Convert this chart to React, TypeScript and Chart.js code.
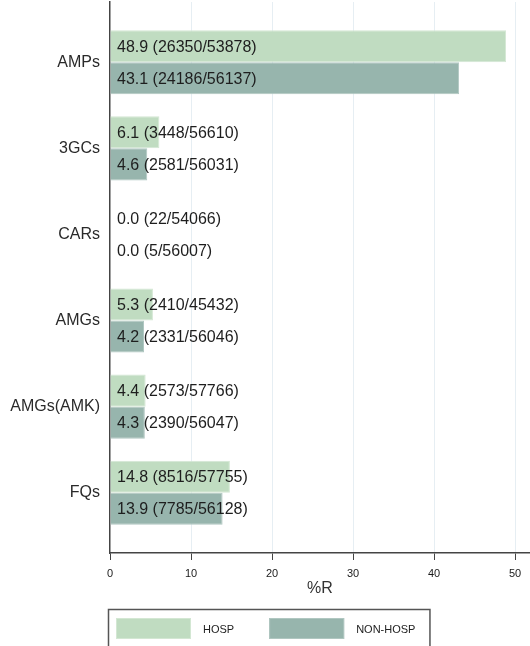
import React, { useEffect, useRef } from "react";
import { Chart, registerables } from "chart.js";

Chart.register(...registerables);

const categories = ["AMPs", "3GCs", "CARs", "AMGs", "AMGs(AMK)", "FQs"];
const hospPct = [48.9, 6.1, 0.0, 5.3, 4.4, 14.8];
const hospResistant = [26350, 3448, 22, 2410, 2573, 8516];
const hospTested = [53878, 56610, 54066, 45432, 57766, 57755];
const nonHospPct = [43.1, 4.6, 0.0, 4.2, 4.3, 13.9];
const nonHospResistant = [24186, 2581, 5, 2331, 2390, 7785];
const nonHospTested = [56137, 56031, 56007, 56046, 56047, 56128];
const xTickValues = [0, 10, 20, 30, 40, 50];
const seriesNames = ["HOSP", "NON-HOSP"];
const seriesColors = ["#c0dcc1", "#97b5ad"];
const seriesEdges = ["#d3e7d3", "#b0c7c1"];

const FONT = "'Liberation Sans', Arial, sans-serif";

const countLabels = [
  hospPct.map((v, i) => `${v.toFixed(1)} (${hospResistant[i]}/${hospTested[i]})`),
  nonHospPct.map((v, i) => `${v.toFixed(1)} (${nonHospResistant[i]}/${nonHospTested[i]})`),
];

// Writes "pct (resistant/tested)" inside each bar, starting at the zero line
const barLabelPlugin = {
  id: "barLabels",
  afterDatasetsDraw(chart: any) {
    const ctx = chart.ctx;
    const x0 = chart.scales.x.getPixelForValue(0) + 7;
    ctx.save();
    ctx.font = `16px ${FONT}`;
    ctx.fillStyle = "#1e1e1e";
    ctx.textAlign = "left";
    ctx.textBaseline = "middle";
    chart.data.datasets.forEach((_ds: any, di: number) => {
      const meta = chart.getDatasetMeta(di);
      meta.data.forEach((el: any, i: number) => {
        ctx.fillText(countLabels[di][i], x0, el.y + 1);
      });
    });
    ctx.restore();
  },
};

// Boxed legend under the axis title
const boxLegendPlugin = {
  id: "boxLegend",
  afterDraw(chart: any) {
    const ctx = chart.ctx;
    ctx.save();
    ctx.font = `11px ${FONT}`;
    const padL = 8, sw = 75, sh = 21, gapText = 12, gapItem = 35, padR = 15;
    const textW = chart.data.datasets.map((d: any) => ctx.measureText(d.label).width);
    let boxW = padL + padR;
    textW.forEach((w: number, i: number) => {
      boxW += sw + gapText + w + (i < textW.length - 1 ? gapItem : 0);
    });
    const left = Math.round(chart.width / 2 - boxW / 2 + 4);
    const top = chart.scales.x.bottom + 11;
    ctx.strokeStyle = "#555555";
    ctx.lineWidth = 1.5;
    ctx.strokeRect(left + 0.5, top + 0.5, boxW - 1, 42);
    let x = left + padL;
    chart.data.datasets.forEach((d: any, i: number) => {
      ctx.fillStyle = d.backgroundColor;
      ctx.fillRect(x, top + 9, sw, sh);
      ctx.strokeStyle = d.borderColor;
      ctx.lineWidth = 1;
      ctx.strokeRect(x + 0.5, top + 9.5, sw - 1, sh - 1);
      x += sw + gapText;
      ctx.fillStyle = "#222222";
      ctx.textAlign = "left";
      ctx.textBaseline = "middle";
      ctx.fillText(d.label, x, top + 9 + sh / 2 + 1);
      x += textW[i] + gapItem;
    });
    ctx.restore();
  },
};

export default function App() {
  const canvasRef = useRef<HTMLCanvasElement | null>(null);

  useEffect(() => {
    if (!canvasRef.current) return;
    const chart = new Chart(canvasRef.current, {
      type: "bar",
      data: {
        datasets: [
          {
            label: seriesNames[0],
            data: hospPct.map((v, i) => ({ x: v, y: i })),
            backgroundColor: seriesColors[0],
            borderColor: seriesEdges[0],
            borderWidth: 1,
            categoryPercentage: 0.745,
            barPercentage: 1,
          },
          {
            label: seriesNames[1],
            data: nonHospPct.map((v, i) => ({ x: v, y: i })),
            backgroundColor: seriesColors[1],
            borderColor: seriesEdges[1],
            borderWidth: 1,
            categoryPercentage: 0.745,
            barPercentage: 1,
          },
        ],
      },
      options: {
        indexAxis: "y",
        animation: false,
        responsive: false,
        layout: { padding: { top: 2, right: 0, left: 0, bottom: 68 } },
        plugins: {
          legend: { display: false },
          tooltip: { enabled: false },
        },
        scales: {
          x: {
            type: "linear",
            min: 0,
            max: 51.85,
            afterBuildTicks: (scale: any) => {
              scale.ticks = xTickValues.map((v) => ({ value: v }));
            },
            afterFit: (scale: any) => {
              scale.height = 45;
              scale.paddingLeft = 0;
              scale.paddingRight = 0;
            },
            ticks: {
              font: { family: FONT, size: 11 },
              color: "#1a1a1a",
              padding: 7,
              maxRotation: 0,
            },
            grid: {
              color: (c: any) => (c.tick && c.tick.value === 0 ? "rgba(0,0,0,0)" : "#e6eef3"),
              tickColor: "#444444",
              tickLength: 7,
              lineWidth: 1,
            },
            border: { display: true, color: "#444444", width: 1.5 },
            title: {
              display: true,
              text: "%R",
              font: { family: FONT, size: 16 },
              color: "#333333",
              padding: { top: 0, bottom: 0 },
            },
          },
          y: {
            type: "linear",
            reverse: true,
            offset: false,
            min: -0.7,
            max: 5.7,
            afterBuildTicks: (scale: any) => {
              scale.ticks = categories.map((_c, i) => ({ value: i }));
            },
            afterFit: (scale: any) => {
              scale.width = 110;
              scale.paddingTop = 0;
              scale.paddingBottom = 0;
            },
            ticks: {
              callback: (v: any) => categories[Number(v)] ?? "",
              font: { family: FONT, size: 16 },
              color: "#2a2a2a",
              padding: 10,
            },
            grid: { display: false, drawTicks: false, offset: false },
            border: { display: true, color: "#444444", width: 1.5 },
          },
        },
      },
      plugins: [barLabelPlugin, boxLegendPlugin],
    } as any);
    return () => chart.destroy();
  }, []);

  return (
    <div
      style={{
        position: "absolute",
        left: 0,
        top: 0,
        width: 530,
        height: 646,
        overflow: "hidden",
        background: "#ffffff",
      }}
    >
      <canvas ref={canvasRef} width={530} height={666} style={{ display: "block" }} />
    </div>
  );
}
